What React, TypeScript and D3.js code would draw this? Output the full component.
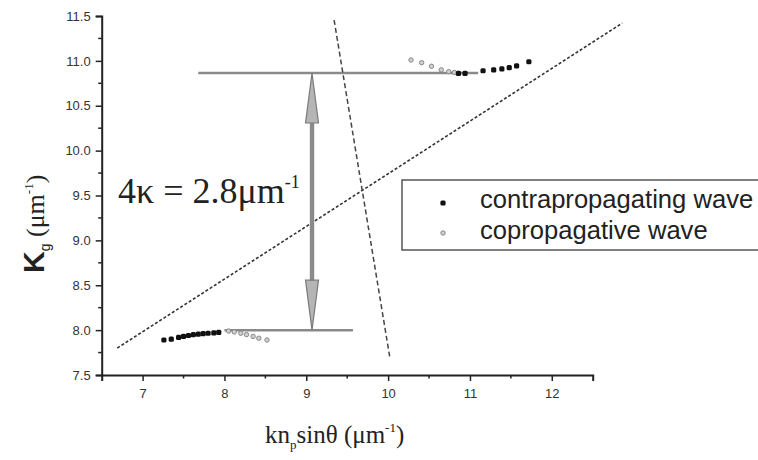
import { useEffect, useRef } from "react";
import * as d3 from "d3";

const W = 758;
const H = 460;

// contrapropagating wave (black dots)
const contraX = [7.26, 7.35, 7.44, 7.5, 7.56, 7.62, 7.68, 7.74, 7.8, 7.87, 7.93, 10.86, 10.94, 11.16, 11.29, 11.39, 11.48, 11.57, 11.72];
const contraY = [7.89, 7.9, 7.92, 7.93, 7.94, 7.95, 7.955, 7.96, 7.965, 7.97, 7.975, 10.86, 10.86, 10.89, 10.9, 10.91, 10.925, 10.945, 10.99];

// copropagative wave (grey dots)
const coX = [8.05, 8.12, 8.2, 8.27, 8.35, 8.42, 8.52, 10.28, 10.41, 10.53, 10.65, 10.74, 10.81];
const coY = [7.99, 7.98, 7.965, 7.95, 7.93, 7.91, 7.89, 11.01, 10.98, 10.94, 10.9, 10.88, 10.87];

// guide lines [x1, y1, x2, y2] in data units
const diagonalLine = [6.69, 7.8, 12.86, 11.42];
const steepLine = [9.34, 11.455, 10.02, 7.7];
const upperLevel = [7.68, 10.865, 11.1, 10.865];
const lowerLevel = [8.0, 8.0, 9.57, 8.0];
const gapArrow = [9.07, 10.865, 9.07, 8.0];

const xTicks = [7, 8, 9, 10, 11, 12];
const yTicks = [7.5, 8.0, 8.5, 9.0, 9.5, 10.0, 10.5, 11.0, 11.5];

const legendLabels = ["contrapropagating wave", "copropagative wave"];

export default function App() {
  const svgRef = useRef<SVGSVGElement>(null);

  useEffect(() => {
    if (!svgRef.current) return;
    const svg = d3.select(svgRef.current);
    svg.selectAll("*").remove();

    const x = d3.scaleLinear().domain([6.5, 12.5]).range([101.7, 592.7]);
    const y = d3.scaleLinear().domain([7.5, 11.5]).range([375, 16]);

    const g = svg.append("g");

    // guide lines
    const line = (d: number[], stroke: string, width: number, dash?: string) =>
      g.append("line")
        .attr("x1", x(d[0])).attr("y1", y(d[1]))
        .attr("x2", x(d[2])).attr("y2", y(d[3]))
        .attr("stroke", stroke)
        .attr("stroke-width", width)
        .attr("stroke-dasharray", dash || null);

    line(upperLevel, "#8a8a8a", 2.5);
    line(lowerLevel, "#8a8a8a", 2.5);
    line(diagonalLine, "#333", 1.6, "3,2");
    line(steepLine, "#444", 1.5, "5,3");

    // double arrow
    const ax = x(gapArrow[0]);
    const ay1 = y(gapArrow[1]);
    const ay2 = y(gapArrow[3]);
    const headLen = 50;
    const headW = 6.5;
    g.append("rect")
      .attr("x", ax - 2.2).attr("y", ay1 + headLen - 2)
      .attr("width", 4.4).attr("height", ay2 - ay1 - 2 * headLen + 4)
      .attr("fill", "#8a8a8a");
    g.append("path")
      .attr("d", `M${ax},${ay1} L${ax + headW},${ay1 + headLen} L${ax - headW},${ay1 + headLen} Z`)
      .attr("fill", "#b5b5b5").attr("stroke", "#7a7a7a").attr("stroke-width", 1.2);
    g.append("path")
      .attr("d", `M${ax},${ay2} L${ax + headW},${ay2 - headLen} L${ax - headW},${ay2 - headLen} Z`)
      .attr("fill", "#b5b5b5").attr("stroke", "#7a7a7a").attr("stroke-width", 1.2);

    // data points
    g.selectAll(".co")
      .data(d3.range(coX.length))
      .enter().append("circle")
      .attr("class", "co")
      .attr("cx", (i) => x(coX[i]))
      .attr("cy", (i) => y(coY[i]))
      .attr("r", 2.2)
      .attr("fill", "#d0d0d0")
      .attr("stroke", "#888")
      .attr("stroke-width", 1);

    g.selectAll(".contra")
      .data(d3.range(contraX.length))
      .enter().append("rect")
      .attr("class", "contra")
      .attr("x", (i) => x(contraX[i]) - 2.6)
      .attr("y", (i) => y(contraY[i]) - 2.6)
      .attr("width", 5.2)
      .attr("height", 5.2)
      .attr("rx", 1.5)
      .attr("fill", "#111");

    // axes
    const xAxis = d3.axisBottom(x)
      .tickValues(xTicks)
      .tickSize(6)
      .tickFormat((d) => String(d));
    const xg = svg.append("g").attr("transform", `translate(0,${y(7.5)})`).call(xAxis);
    xg.select(".domain").attr("stroke", "#222").attr("stroke-width", 2);
    xg.selectAll(".tick line").attr("stroke", "#222").attr("stroke-width", 1.5);
    xg.selectAll("text")
      .attr("font-family", "Arial, 'Liberation Sans', sans-serif")
      .attr("font-size", 13).attr("fill", "#333").attr("dy", "1.05em");

    const xMinor = d3.range(7.5, 12.5, 1);
    svg.append("g").selectAll("line").data(xMinor).enter().append("line")
      .attr("x1", (d) => x(d)).attr("x2", (d) => x(d))
      .attr("y1", y(7.5)).attr("y2", y(7.5) + 3.5)
      .attr("stroke", "#222").attr("stroke-width", 1.5);

    const yAxis = d3.axisLeft(y)
      .tickValues(yTicks)
      .tickSize(6)
      .tickFormat((d) => d3.format(".1f")(d as number));
    const yg = svg.append("g").attr("transform", `translate(${x(6.5)},0)`).call(yAxis);
    yg.select(".domain").attr("stroke", "#222").attr("stroke-width", 2);
    yg.selectAll(".tick line").attr("stroke", "#222").attr("stroke-width", 1.5);
    yg.selectAll("text")
      .attr("font-family", "Arial, 'Liberation Sans', sans-serif")
      .attr("font-size", 13).attr("fill", "#333").attr("x", -11);

    const yMinor = d3.range(7.75, 11.5, 0.5);
    svg.append("g").selectAll("line").data(yMinor).enter().append("line")
      .attr("x1", x(6.5)).attr("x2", x(6.5) - 3.5)
      .attr("y1", (d) => y(d)).attr("y2", (d) => y(d))
      .attr("stroke", "#222").attr("stroke-width", 1.5);

    // annotation text
    const ann = svg.append("text")
      .attr("x", 118).attr("y", 203)
      .attr("font-family", "'Liberation Serif', 'Times New Roman', serif")
      .attr("font-size", 36).attr("fill", "#222");
    ann.append("tspan").text("4κ = 2.8μm");
    ann.append("tspan").attr("font-size", 18).attr("dy", -15).text("-1");

    // axis titles
    const xt = svg.append("text")
      .attr("x", 265).attr("y", 443)
      .attr("font-family", "'Liberation Serif', 'Times New Roman', serif")
      .attr("font-size", 25).attr("fill", "#222");
    xt.append("tspan").text("kn");
    xt.append("tspan").attr("font-size", 13).attr("dy", 6).text("p");
    xt.append("tspan").attr("dy", -6).text("sinθ (μm");
    xt.append("tspan").attr("font-size", 13).attr("dy", -11).text("-1");
    xt.append("tspan").attr("dy", 11).text(")");

    const yt = svg.append("text")
      .attr("transform", `translate(44,273) rotate(-90)`)
      .attr("fill", "#222");
    yt.append("tspan")
      .attr("font-family", "Arial, 'Liberation Sans', sans-serif")
      .attr("font-weight", "bold").attr("font-size", 30).text("K");
    yt.append("tspan")
      .attr("font-family", "Arial, 'Liberation Sans', sans-serif")
      .attr("font-size", 14).attr("dy", 6).text("g");
    yt.append("tspan")
      .attr("font-family", "'Liberation Serif', 'Times New Roman', serif")
      .attr("font-size", 26).attr("dy", -6).text(" (μm");
    yt.append("tspan")
      .attr("font-family", "'Liberation Serif', 'Times New Roman', serif")
      .attr("font-size", 13).attr("dy", -11).text("-1");
    yt.append("tspan")
      .attr("font-family", "'Liberation Serif', 'Times New Roman', serif")
      .attr("font-size", 26).attr("dy", 11).text(")");

    // legend
    const lg = svg.append("g");
    lg.append("rect")
      .attr("x", 402).attr("y", 180)
      .attr("width", 360).attr("height", 70)
      .attr("fill", "#fff").attr("stroke", "#555").attr("stroke-width", 1.5);
    lg.append("rect")
      .attr("x", 443 - 2.6).attr("y", 203 - 2.6)
      .attr("width", 5.2).attr("height", 5.2).attr("rx", 1.5)
      .attr("fill", "#111");
    lg.append("circle")
      .attr("cx", 443).attr("cy", 233).attr("r", 2.2)
      .attr("fill", "#d0d0d0").attr("stroke", "#888");
    lg.selectAll(".lt").data(legendLabels).enter().append("text")
      .attr("class", "lt")
      .attr("x", 480)
      .attr("y", (_d, i) => 208 + i * 31)
      .attr("font-family", "Arial, 'Liberation Sans', sans-serif")
      .attr("font-size", 25.6)
      .attr("fill", "#222")
      .text((d) => d);
  }, []);

  return (
    <svg
      ref={svgRef}
      width={W}
      height={H}
      style={{ position: "absolute", left: 0, top: 0, background: "#fff" }}
    />
  );
}
